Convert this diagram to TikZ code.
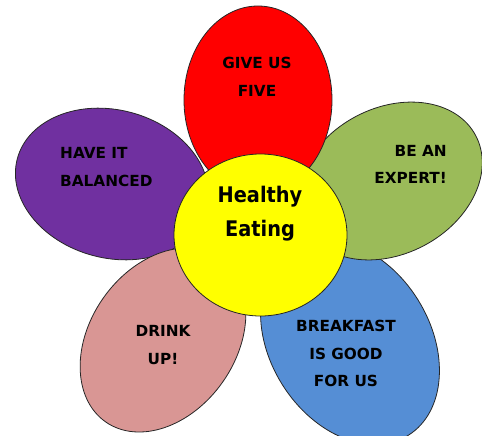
\documentclass[tikz,border=0pt]{standalone}
\usepackage{fontspec}
\setmainfont{DejaVu Sans}
\newfontfamily\condfont{DejaVu Sans Condensed}
\definecolor{petalred}{HTML}{FF0000}
\definecolor{petalpurple}{HTML}{7030A0}
\definecolor{petalgreen}{HTML}{9BBB59}
\definecolor{petalblue}{HTML}{558ED5}
\definecolor{petalpink}{HTML}{D99694}
\definecolor{centeryellow}{HTML}{FFFF00}
\tikzset{
  petal/.style={draw=black!85, line width=0.8pt},
  petaltext/.style={inner sep=0pt, font=\bfseries\fontsize{15.3}{27.5}\selectfont, text=black},
  centertext/.style={inner sep=0pt, align=center, font=\condfont\bfseries\fontsize{21.5}{34}\selectfont, text=black}
}
\begin{document}
\begin{tikzpicture}[x=1pt,y=1pt]
\useasboundingbox (0,0) rectangle (482,-436);
% petals (back to front)
\draw[petal, fill=petalblue] (350,-342) ellipse [x radius=110, y radius=80, rotate=-58];
\draw[petal, fill=petalgreen] (390,-181) ellipse [x radius=97, y radius=73, rotate=28];
\draw[petal, fill=petalpurple] (112,-184) ellipse [x radius=98, y radius=74, rotate=-15];
\draw[petal, fill=petalpink] (163,-340) ellipse [x radius=100, y radius=73, rotate=55];
\draw[petal, fill=petalred] (258,-100) ellipse [x radius=74, y radius=94];
\draw[petal, fill=centeryellow] (260.5,-235) ellipse [x radius=86.5, y radius=81];
% texts
\node[petaltext, align=center] (five) at (257,-77) {GIVE US\\FIVE};
\node[petaltext, align=left, anchor=west] (balanced) at (60,-167) {HAVE IT\\BALANCED};
\node[petaltext, align=right, anchor=east] (expert) at (447,-164.5) {BE AN\\EXPERT!};
\node[petaltext, align=center] (drink) at (163,-345) {DRINK\\UP!};
\node[petaltext, align=center] (breakfast) at (346,-353.5) {BREAKFAST\\IS GOOD\\FOR US};
\node[centertext] (healthy) at (260,-214) {Healthy\\Eating};
\end{tikzpicture}
\end{document}
